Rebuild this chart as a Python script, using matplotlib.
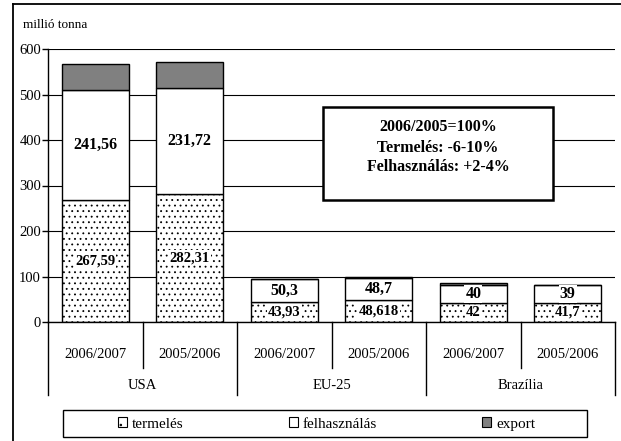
import matplotlib
matplotlib.use("Agg")
import matplotlib.pyplot as plt
from matplotlib.patches import Patch, Rectangle
from matplotlib.lines import Line2D
import numpy as np

plt.rcParams["font.family"] = ["Liberation Serif", "DejaVu Serif"]
plt.rcParams["hatch.linewidth"] = 0.6

years = ["2006/2007", "2005/2006", "2006/2007", "2005/2006", "2006/2007", "2005/2006"]
groups = ["USA", "EU-25", "Brazília"]
termeles = [267.59, 282.31, 43.93, 48.618, 42, 41.7]
felhasznalas = [241.56, 231.72, 50.3, 48.7, 40, 39]
export = [57, 58, 1, 1, 3.5, 1.5]
termeles_lbl = ["267,59", "282,31", "43,93", "48,618", "42", "41,7"]
felhasznalas_lbl = ["241,56", "231,72", "50,3", "48,7", "40", "39"]
yticks = [0, 100, 200, 300, 400, 500, 600]
note_lines = ["2006/2005=100%", "Termelés: -6-10%", "Felhasználás: +2-4%"]

W, H = 621, 441
fig = plt.figure(figsize=(W / 100, H / 100), dpi=100)
ax = fig.add_axes([48 / W, 1 - 322 / H, (615 - 48) / W, (322 - 49) / H])

x = np.arange(len(years))
t = np.array(termeles)
f = np.array(felhasznalas)
e = np.array(export)
bw = 0.71
ax.bar(x, t, bw, color="white", edgecolor="black", hatch="...", lw=1, zorder=2)
ax.bar(x, f, bw, bottom=t, color="white", edgecolor="black", lw=1, zorder=2)
ax.bar(x, e, bw, bottom=t + f, color="#808080", edgecolor="black", lw=1, zorder=2)

box = dict(facecolor="white", edgecolor="none", pad=0.8)
for i in range(len(x)):
    ax.text(x[i], t[i] / 2, termeles_lbl[i], ha="center", va="center",
            fontsize=10.5, fontweight="bold", bbox=box, zorder=4)
    ax.text(x[i], t[i] + f[i] / 2, felhasznalas_lbl[i], ha="center", va="center",
            fontsize=11.5, fontweight="bold", bbox=box, zorder=4)

ax.set_xlim(-0.5, len(x) - 0.5)
ax.set_ylim(0, 600)
ax.set_yticks(yticks)
ax.tick_params(axis="y", length=4, width=1, labelsize=10.5, pad=1)
ax.set_xticks(x)
ax.set_xticklabels(years, fontsize=10.5)
ax.tick_params(axis="x", length=0, pad=19)
ax.yaxis.grid(True, color="black", lw=0.8)
ax.set_axisbelow(True)
for s in ["top", "right"]:
    ax.spines[s].set_visible(False)
ax.spines["left"].set_linewidth(1)
ax.spines["bottom"].set_linewidth(1)

# two-level category axis
tr = ax.get_xaxis_transform()
for xv in [0.5, 2.5, 4.5]:
    ax.plot([xv, xv], [0, -0.168], color="black", lw=1, transform=tr, clip_on=False)
for xv in [-0.5, 1.5, 3.5, 5.5]:
    ax.plot([xv, xv], [0, -0.267], color="black", lw=1, transform=tr, clip_on=False)
for i, g in enumerate(groups):
    ax.text(2 * i + 0.5, -0.234, g, ha="center", va="center", fontsize=10.5, transform=tr)

# note box
fig.add_artist(Rectangle((323 / W, 1 - 200 / H), (553 - 323) / W, 93 / H,
                         transform=fig.transFigure, fc="white", lw=1.8, ec="black",
                         zorder=2))
for line, yp in zip(note_lines, [127, 147.5, 167]):
    fig.text(438 / W, 1 - yp / H, line, ha="center", va="center", fontsize=11.5,
             fontweight="bold", zorder=3)

fig.text(23 / W, 1 - 25 / H, "millió tonna", fontsize=9.5, va="center")

# legend
handles = [Patch(facecolor="white", edgecolor="black", hatch="..", lw=0.8, label="termelés"),
           Patch(facecolor="white", edgecolor="black", lw=0.8, label="felhasználás"),
           Patch(facecolor="#808080", edgecolor="black", lw=0.8, label="export")]
fig.legend(handles=handles, loc="center left", bbox_to_anchor=(118 / W, 1 - 424 / H),
           ncol=3, frameon=False, fontsize=11, handlelength=0.6, handleheight=0.6,
           handletextpad=0.3, columnspacing=6.9, borderpad=0, borderaxespad=0)
fig.add_artist(Rectangle((63 / W, 1 - 437 / H), (587 - 63) / W, 27 / H,
                         transform=fig.transFigure, fill=False, lw=1, ec="black"))

# outer frame (left and top only visible)
fig.add_artist(Line2D([13 / W, 13 / W], [0, 1 - 4 / H], transform=fig.transFigure,
                      color="black", lw=1.3))
fig.add_artist(Line2D([13 / W, 1], [1 - 4 / H, 1 - 4 / H], transform=fig.transFigure,
                      color="black", lw=1.3))

fig.savefig("out.png", dpi=100)
